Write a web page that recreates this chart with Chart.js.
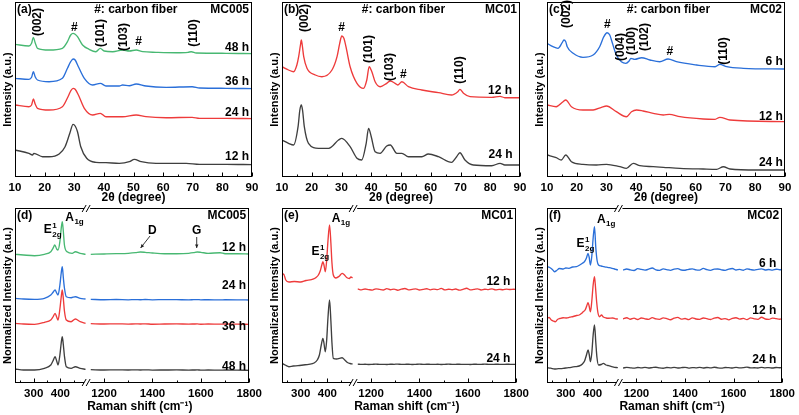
<!DOCTYPE html>
<html><head><meta charset="utf-8">
<script src="https://cdn.jsdelivr.net/npm/chart.js@4.4.0/dist/chart.umd.min.js"></script>
<style>
body{margin:0;background:#fff;width:799px;height:415px;position:relative;overflow:hidden}
canvas{position:absolute}
</style></head><body>
<canvas id="ca" width="266" height="205" style="left:0;top:0"></canvas>
<canvas id="cb" width="266" height="205" style="left:267px;top:0"></canvas>
<canvas id="cc" width="267" height="205" style="left:532px;top:0"></canvas>
<canvas id="cd" width="266" height="210" style="left:0;top:205px"></canvas>
<canvas id="ce" width="266" height="210" style="left:267px;top:205px"></canvas>
<canvas id="cf" width="267" height="210" style="left:532px;top:205px"></canvas>
<script>
// ---------- tick labels ----------
const xrdTicks = [10,20,30,40,50,60,70,80,90];
const xrdMinor = [15,25,35,45,55,65,75,85];
const ramanLeftTicks = [300,400];
const ramanLeftMinor = [250,350,450];
const ramanRightTicks = [1200,1400,1600,1800];
const ramanRightMinor = [1300,1500,1700];

// ---------- (a) XRD MC005 : [2theta, intensity] ----------
const a48h = [[10,132.7],[14.7,131],[15.6,133.7],[16.2,139.7],[16.8,134.3],[17.6,128.7],[21.5,127],[26,128.7],[27.7,135.3],[28.8,142],[29.6,143.7],[30.3,142.7],[31.1,140.3],[32.8,132],[35,127.7],[37.3,125.3],[38.8,128.7],[40.1,126],[43,125.3],[46.3,127],[48.6,126],[50.9,127],[53.1,125.3],[57.6,124.7],[64.4,124.3],[68.4,124.7],[69.5,125.3],[71.2,124],[81.3,123.7],[90,123.3]];
const a36h = [[10,98.7],[14.7,97.7],[15.6,99.7],[16.2,105.3],[16.8,100.3],[17.6,97],[21.5,95.3],[26,98.7],[27.7,108.7],[28.8,115.3],[29.6,118],[30.3,117],[31.4,110.3],[33.4,98.7],[36.2,92],[38.8,93.7],[40.7,91],[45.2,91],[46.3,92],[48.6,91.3],[50.9,93],[54.2,91],[61,89.7],[69.8,90.3],[72.3,89],[81.3,88.7],[90,88.3]];
const a24h = [[10,72],[14.7,70.3],[15.6,72],[16.2,78],[16.8,73],[17.6,68.7],[21.5,67],[26,70.3],[27.9,80.3],[28.8,86],[29.6,88.7],[30.3,87.7],[31.4,82],[33.4,68.7],[36.2,62],[38.8,63.7],[40.7,60.3],[46.3,60.3],[50.9,62],[54.2,60.3],[61,59.3],[69.8,59.7],[72.3,58.7],[81.3,58.7],[90,58.3]];
const a12h = [[10,27],[14.7,23.7],[15.9,22],[16.4,23.7],[19.3,20.3],[21.5,20.3],[24.9,23],[26.9,30.3],[28.5,43.7],[29.6,52.7],[30.3,51],[31.1,45.3],[32.2,30.3],[34.2,18.7],[37.3,14.7],[40.7,14.3],[45.2,13.7],[48.6,15.3],[50.3,17.7],[52.6,15.3],[57.6,13.7],[63.3,13.7],[67.8,13.7],[72.3,12.7],[81.3,12.7],[90,12.3]];

// ---------- (b) XRD MC01 ----------
const b12h = [[10,110.3],[12.2,107],[13.9,105.3],[15,112],[15.6,120.3],[16.2,132],[16.5,137],[16.8,132],[17.3,120.3],[18.4,108.7],[21.2,102],[23.4,100.3],[26.8,107],[28.5,120.3],[29.4,133.7],[30.1,141],[30.8,138.7],[31.5,130.3],[32.9,110.3],[35.2,93.7],[37.4,88.7],[38.5,97],[39.3,110.3],[40.2,105.3],[41.3,95.3],[43,90.3],[45.2,93.7],[46.4,96],[48,93.7],[48.9,92],[50.3,95.3],[52.5,90.3],[57,87],[62.6,84.3],[67,82],[69.1,85.3],[69.8,87.7],[71,83.7],[73.2,80.3],[80.5,79.7],[83.3,80.7],[84.9,79.3],[90,79.3]];
const b24h = [[10,37],[12.2,33.7],[13.9,32],[15.4,50.3],[16,67],[16.5,72],[16.9,67],[17.5,50.3],[18.9,33.7],[22.3,28.7],[25.7,28.7],[29,37],[30.1,38.7],[32.9,30.3],[35.2,18.7],[36.8,17],[38.3,33.7],[39.1,48.7],[40,40.3],[41.3,25.3],[43,23.7],[45.2,31],[46.4,32],[48.6,23.7],[50.3,23.7],[52.5,20.3],[57,20.3],[59.2,23],[62.6,20.3],[67,14.7],[68.7,20.3],[69.8,24.3],[71.5,17],[74.3,12],[80.5,11.3],[83.3,13.7],[84.9,12],[90,12]];

// ---------- (c) XRD MC02 ----------
const c6h = [[10,133.7],[12,130.3],[13.7,128.7],[15.1,134.3],[15.7,137],[16.3,135.3],[16.8,130.3],[18.8,123.7],[22.1,119.7],[25.5,122],[27.7,130.3],[29.1,140.3],[30.2,144.3],[31.1,142],[32,133.7],[33.3,122],[35,115.3],[36.5,113.7],[37.6,116],[38.2,118.7],[39.5,117.7],[41.8,119.3],[44.6,117],[47.9,115.3],[50.7,118],[53.5,115.3],[60.3,112],[66.5,110.3],[68.1,112.7],[70.4,110.3],[76,108.7],[90,108]];
const c12h = [[10,72],[13.1,70.3],[15.4,75.3],[16.3,77],[18.2,70.3],[22.1,67],[25.5,67],[28.3,69.7],[30,71],[33.3,65.3],[36.7,60.3],[38.4,65.3],[40.1,67],[42.3,66],[45.7,63.7],[49.1,62],[51.1,62.7],[54.7,60.3],[62.5,58],[66.5,57.7],[68.1,59.7],[71.5,57],[90,55.3]];
const c24h = [[10,22],[13.1,19.3],[14.8,17],[16.3,22],[18.2,15.3],[22.1,12.7],[26.6,12],[30,12.7],[34.5,10.3],[36.7,8.7],[39,13.7],[41.2,11.3],[45.7,10.3],[49.1,9.7],[54.7,8.7],[62.5,8],[67,7.7],[69.3,10.3],[71.5,8],[80.5,7],[90,7]];

// ---------- (d) Raman MC005 : [shift, normalized intensity] ----------
const dGreenL = [[230,128.7],[262,128],[303,127.3],[340,128.7],[364,131.3],[372,134.7],[379,138],[386,134],[391,133],[398,141.3],[403,154.7],[407,161.3],[411,151.3],[415,138],[425,131.3],[444,129.7],[456,131.3],[474,129.7],[494,128.7]];
const dBlueL = [[230,84.7],[262,84],[303,83.7],[340,84.7],[364,88],[372,90.5],[380,93],[386,90],[391,88],[398,98],[403,110],[407,116.3],[411,105],[415,95],[422,86.3],[440,85.3],[456,86.3],[474,84.7],[494,84]];
const dRedL = [[230,59.7],[262,59],[303,58.7],[340,60.7],[364,63],[372,66],[380,69.7],[386,66],[391,63],[398,74],[403,86],[407,93],[411,84],[415,72],[422,63],[440,61.3],[456,64],[474,61.3],[494,59.7]];
const dBlackL = [[230,14],[262,13],[303,13],[340,14.7],[364,18],[372,22],[380,26.3],[386,22],[391,18],[398,28],[403,40],[407,46.3],[411,38],[415,27],[422,16.3],[440,14.7],[456,16.3],[474,14.7],[494,13.7]];
const dRightX = [1145,1200,1250,1300,1330,1350,1370,1400,1450,1500,1550,1570,1585,1600,1630,1680,1700,1750,1800];
const dGreenR = [128.7,129,129.3,129.7,130.3,131,130.7,130,129.3,129.3,129.7,130.3,131,130.7,129.7,130.3,129.3,129.3,129];
const dBlueR = [83.7,83.3,83.5,83.2,83.4,83.3,83.5,83.2,83.4,83.3,83.1,83.3,83.4,83.2,83.3,83.1,83.3,83.2,83.0];
const dRedR = [59.3,59,59.2,58.9,59.1,59,59.2,58.8,59,59.1,58.9,59,59.1,58.8,59,58.9,59,58.8,58.7];
const dBlackR = [13.3,13,13.2,13,13.1,13,13.2,12.9,13,13.1,12.9,13,13.1,12.9,13,12.9,13,12.8,12.7];

// ---------- (e) Raman MC01 ----------
const eRedL = [[230,108],[236,109],[244,103],[256,101],[276,101.5],[300,101],[320,102.5],[340,103.3],[355,105],[365,107.5],[373,112],[379,118],[383,121.3],[387,118],[392,111.3],[397,122],[402,142],[408,158],[413,140],[417,120],[422,108],[432,105],[445,107],[455,109.7],[462,108.5],[472,105.5],[482,104.5],[488,106],[494,105]];
const eBlackL = [[230,19.7],[242,18],[256,16.3],[272,17],[290,17.3],[310,18],[330,18.7],[350,20],[362,23],[370,28],[377,38],[383,44.7],[387,40],[392,31.3],[397,42],[402,65],[408,83],[413,62],[417,40],[422,24.7],[435,24],[445,24.7],[455,25.3],[465,23],[475,20.5],[485,19.5],[494,19]];
const noisyRightX = [1145,1160,1175,1190,1205,1220,1235,1250,1265,1280,1295,1310,1325,1340,1355,1370,1385,1400,1415,1430,1445,1460,1475,1490,1505,1520,1535,1550,1565,1580,1595,1610,1625,1640,1655,1670,1685,1700,1715,1730,1745,1760,1775,1790,1800];
const eRedR = [94.1,93.2,94.0,93.4,92.9,94.2,93.6,93.0,94.4,93.3,93.9,92.8,93.8,94.5,93.1,93.7,94.2,93.0,93.6,94.3,93.2,93.9,93.4,94.6,93.1,93.8,93.3,94.0,92.9,93.7,94.8,93.2,93.6,94.1,93.0,93.8,93.4,94.2,93.1,93.7,93.3,93.9,93.5,93.8,93.6];
const eBlackR = [18.9,18.6,18.8,18.5,18.7,18.9,18.6,18.7,18.5,18.8,18.7,18.9,18.6,18.7,18.8,18.5,18.7,18.9,18.6,18.8,18.7,18.6,18.8,18.5,18.7,18.9,18.6,18.7,18.8,18.6,18.7,18.5,18.8,18.7,18.6,18.9,18.7,18.6,18.8,18.7,18.6,18.8,18.7,18.6,18.7];

// ---------- (f) Raman MC02 ----------
const fBlueL = [[230,116.3],[240,115.5],[250,113.5],[258,111.3],[266,112.5],[276,114.5],[290,114],[300,115],[312,114.7],[325,116],[340,116.3],[352,118],[362,119.7],[370,121.5],[377,125],[383,129.7],[387,126],[392,118],[397,127],[402,145],[407,156.3],[412,134.7],[417,122],[422,118],[432,117],[442,116.3],[452,115.8],[462,115.3],[472,114.7],[482,114],[488,113.5],[494,113]];
const fRedL = [[230,64.7],[238,65.5],[246,63],[253,62],[261,61.3],[269,63.5],[278,64.5],[290,65.3],[302,65],[315,65.8],[328,66.5],[340,67.5],[350,68],[358,69.5],[365,71.3],[372,73],[378,77],[383,80.3],[387,77],[392,71.3],[397,82],[402,98],[407,106.3],[411,95],[415,81.3],[420,70],[426,66.3],[433,68],[440,66],[450,65],[460,64.8],[475,65],[485,64.2],[494,64]];
const fBlackL = [[230,15.3],[244,14.8],[258,14],[272,14.3],[290,14.7],[305,15.2],[320,15.7],[335,16.3],[350,17],[362,19],[370,22],[377,28],[383,33],[387,29],[392,21.3],[397,30],[402,48],[407,58],[412,40],[416,26],[422,18],[432,18.5],[440,19.7],[450,18],[460,17.3],[475,16.2],[488,15.5],[494,15.3]];
const fBlueR = [112.8,114.0,113.1,112.5,114.3,113.6,112.9,113.8,115.0,113.2,112.7,114.1,113.4,112.6,113.9,114.4,113.0,112.8,113.7,114.2,113.1,112.9,114.6,113.3,112.7,113.8,114.0,113.2,112.6,113.9,114.5,113.0,113.6,112.8,114.2,113.4,112.9,113.7,114.1,113.0,113.5,112.9,113.8,113.3,113.6];
const fRedR = [64.0,65.3,63.8,64.9,63.5,65.0,64.2,63.6,65.4,64.1,63.7,65.1,64.4,63.3,64.8,65.6,63.9,64.5,63.4,65.2,64.0,63.6,65.0,64.3,63.5,64.9,65.5,63.8,64.4,63.2,64.7,65.3,63.9,64.6,63.4,65.1,64.2,63.7,65.8,64.0,63.6,64.9,64.3,63.8,64.5];
const fBlackR = [15.0,15.6,15.2,14.9,15.5,15.1,15.7,15.0,15.4,15.8,15.1,14.8,15.5,15.2,15.6,15.0,15.3,15.7,14.9,15.4,15.2,15.6,15.0,15.5,15.1,15.8,15.2,14.9,15.5,15.3,15.0,15.6,15.2,15.4,15.9,15.1,15.3,15.0,15.6,15.2,15.4,15.0,15.5,15.3,15.4];

// ---------- styling ----------
const FONT = "'Liberation Sans', Arial, Helvetica, sans-serif";
const COL = {black:'#3f3f3f', red:'#ee3b3b', blue:'#2a6fd9', green:'#48b872'};
Chart.defaults.font.family = FONT;

const pairs = a => a.map(p => ({x:p[0], y:p[1]}));
const zip = (xs, ys) => xs.map((x,i) => ({x, y:ys[i]}));

const decoPlugin = {
  id:'deco',
  afterDatasetsDraw(chart, args, o){
    const ctx = chart.ctx, ca = chart.chartArea, ys = chart.scales.y;
    ctx.save();
    ctx.strokeStyle = '#000'; ctx.lineWidth = 1;
    const L = Math.round(ca.left)+0.5, T = Math.round(ca.top)+0.5, R = Math.round(ca.right)-0.5, B = Math.round(ca.bottom)-0.5;
    ctx.strokeRect(L, T, R-L, B-T);
    (o.ticks||[]).forEach(t => {
      const sc = chart.scales[t.axis];
      const draw = (v, len) => { const px = Math.round(sc.getPixelForValue(v))+0.5; ctx.beginPath(); ctx.moveTo(px, B); ctx.lineTo(px, B-len); ctx.stroke(); };
      t.major.forEach(v => draw(v, 4)); t.minor.forEach(v => draw(v, 2));
    });
    if (o.breakAxis){
      const bx = chart.scales[o.breakAxis].right;
      [T, B].forEach(by => {
        ctx.fillStyle = '#fff'; ctx.fillRect(bx-3, by-1.5, 6, 3);
        ctx.beginPath();
        ctx.moveTo(bx-5, by+3.5); ctx.lineTo(bx-1, by-3.5);
        ctx.moveTo(bx-1, by+3.5); ctx.lineTo(bx+3, by-3.5);
        ctx.stroke();
      });
    }
    ctx.fillStyle = '#000';
    ctx.font = 'bold 12px ' + FONT; ctx.textBaseline = 'middle';
    ctx.textAlign = 'left'; ctx.fillText(o.tag, ca.left+2, ca.top+8);
    ctx.textAlign = 'right'; ctx.fillText(o.sample, ca.right-3, ca.top+8);
    if (o.header){ ctx.textAlign = 'center'; ctx.fillText(o.header, ca.left + ca.width*0.51, ca.top+8); }
    (o.labels||[]).forEach(l => {
      const px = chart.scales[l.ax||'x'].getPixelForValue(l.x), py = ys.getPixelForValue(l.y);
      ctx.font = 'bold 12px ' + FONT; ctx.textBaseline = 'middle';
      if (l.kind === 'E'){
        ctx.textAlign = 'left'; ctx.fillText('E', px, py);
        const w = ctx.measureText('E').width;
        ctx.font = 'bold 8px ' + FONT;
        ctx.fillText('1', px+w+0.5, py-4); ctx.fillText('2g', px+w+0.5, py+5);
      } else if (l.kind === 'A'){
        ctx.textAlign = 'left'; ctx.fillText('A', px, py);
        const w = ctx.measureText('A').width;
        ctx.font = 'bold 8px ' + FONT;
        ctx.fillText('1g', px+w+0.5, py+4);
      } else if (l.rot){
        ctx.save(); ctx.translate(px, py); ctx.rotate(-Math.PI/2);
        ctx.textAlign = 'center'; ctx.fillText(l.t, 0, 0); ctx.restore();
      } else {
        ctx.textAlign = l.al || 'center'; ctx.fillText(l.t, px, py);
      }
    });
    (o.arrows||[]).forEach(a => {
      const sc = chart.scales[a.ax];
      const x1 = sc.getPixelForValue(a.x1), y1 = ys.getPixelForValue(a.y1);
      const x2 = sc.getPixelForValue(a.x2), y2 = ys.getPixelForValue(a.y2);
      ctx.strokeStyle = '#222'; ctx.lineWidth = 0.9;
      ctx.beginPath(); ctx.moveTo(x1,y1); ctx.lineTo(x2,y2); ctx.stroke();
      const ang = Math.atan2(y2-y1, x2-x1), h = 4;
      ctx.beginPath(); ctx.moveTo(x2,y2);
      ctx.lineTo(x2 - h*Math.cos(ang-0.45), y2 - h*Math.sin(ang-0.45));
      ctx.lineTo(x2 - h*Math.cos(ang+0.45), y2 - h*Math.sin(ang+0.45));
      ctx.closePath(); ctx.fillStyle = '#222'; ctx.fill();
    });
    ctx.restore();
  }
};

const tickFont = {size:11.5, weight:'bold', family:FONT};
const titleFont = {size:12, weight:'bold', family:FONT};
const yTitleFont = {size:11, weight:'bold', family:FONT};
const plainLabel = v => String(v);

function line(points, color, axis){
  return {data:points, borderColor:color, borderWidth:1.35, pointRadius:0, fill:false,
          cubicInterpolationMode:'monotone', xAxisID: axis||'x', yAxisID:'y'};
}

function yAxis(text){
  return {min:0, max:175, ticks:{display:false}, grid:{display:false, drawTicks:false}, border:{display:false},
          title:{display:true, text, font:yTitleFont, color:'#000', padding:{top:1, bottom:0}},
          afterFit: s => { s.width = 15; }};
}

function xAxis(min, max, tickValues, extra){
  return Object.assign({type:'linear', position:'bottom', min, max,
    afterBuildTicks: s => { s.ticks = tickValues.map(v => ({value:v})); },
    grid:{display:false, drawTicks:false}, border:{display:false},
    ticks:{font:tickFont, color:'#000', padding:4, maxRotation:0, autoSkip:false, callback:plainLabel}}, extra);
}

function xrdChart(id, datasets, deco, padRight){
  return new Chart(document.getElementById(id), {
    type:'line',
    data:{datasets},
    plugins:[decoPlugin],
    options:{
      responsive:false, animation:false, events:[],
      layout:{padding:{top:2, right:padRight, left:0, bottom:0}},
      plugins:{legend:{display:false}, tooltip:{enabled:false}, deco},
      scales:{
        x: xAxis(10, 90, xrdTicks, {
           title:{display:true, text:'2θ (degree)', font:titleFont, color:'#000', padding:{top:0, bottom:0}},
           afterFit: s => { s.height = 28; }}),
        y: yAxis('Intensity (a.u.)')
      }
    }
  });
}

function ramanChart(id, datasets, deco, padRight){
  return new Chart(document.getElementById(id), {
    type:'line',
    data:{datasets},
    plugins:[decoPlugin],
    options:{
      responsive:false, animation:false, events:[],
      layout:{padding:{top:3, right:padRight, left:0, bottom:0}},
      plugins:{legend:{display:false}, tooltip:{enabled:false}, deco},
      scales:{
        xl: xAxis(230, 500, ramanLeftTicks, {stack:'raman', stackWeight:73, afterFit: s => { s.height = 32; }}),
        xr: xAxis(1130, 1800, ramanRightTicks, {stack:'raman', stackWeight:164,
            title:{display:true, text:'Raman shift (cm⁻¹)', align:'start', font:titleFont, color:'#000', padding:{top:0, bottom:1}},
            afterFit: s => { s.height = 32; }}),
        y: yAxis('Normalized Intensity (a.u.)')
      }
    }
  });
}

const xrdTickMarks = [{axis:'x', major:xrdTicks, minor:xrdMinor}];
const ramanTickMarks = [{axis:'xl', major:ramanLeftTicks, minor:ramanLeftMinor},{axis:'xr', major:ramanRightTicks, minor:ramanRightMinor}];

xrdChart('ca', [line(pairs(a12h),COL.black), line(pairs(a24h),COL.red), line(pairs(a36h),COL.blue), line(pairs(a48h),COL.green)], {
  tag:'(a)', sample:'MC005', header:'#: carbon fiber', ticks:xrdTickMarks,
  labels:[{t:'(002)',x:17.5,y:155,rot:1},{t:'#',x:30,y:149},{t:'(101)',x:38.8,y:144,rot:1},{t:'(103)',x:46.6,y:140,rot:1},
          {t:'#',x:51.7,y:135},{t:'(110)',x:70.3,y:144,rot:1},
          {t:'48 h',x:89,y:129,al:'right'},{t:'36 h',x:89,y:95,al:'right'},{t:'24 h',x:89,y:64,al:'right'},{t:'12 h',x:89,y:20,al:'right'}]
}, 14);

xrdChart('cb', [line(pairs(b24h),COL.black), line(pairs(b12h),COL.red)], {
  tag:'(b)', sample:'MC01', header:'#: carbon fiber', ticks:xrdTickMarks,
  labels:[{t:'(002)',x:17.5,y:159,rot:1},{t:'#',x:30,y:149},{t:'(101)',x:39.2,y:128,rot:1},{t:'(103)',x:46.1,y:110,rot:1},
          {t:'#',x:50.8,y:102},{t:'(110)',x:69.8,y:107,rot:1},
          {t:'12 h',x:87.3,y:86,al:'right'},{t:'24 h',x:87.5,y:22,al:'right'}]
}, 13);

xrdChart('cc', [line(pairs(c24h),COL.black), line(pairs(c12h),COL.red), line(pairs(c6h),COL.blue)], {
  tag:'(c)', sample:'MC02', header:'#: carbon fiber', ticks:xrdTickMarks,
  labels:[{t:'(002)',x:16.6,y:163,rot:1},{t:'#',x:30.3,y:152},{t:'(004)',x:34.9,y:130,rot:1},{t:'(100)',x:38.5,y:136,rot:1},
          {t:'(102)',x:42.7,y:140,rot:1},{t:'#',x:51.3,y:125},{t:'(110)',x:69.3,y:126,rot:1},
          {t:'6 h',x:89.3,y:115,al:'right'},{t:'12 h',x:89.3,y:60,al:'right'},{t:'24 h',x:89.3,y:14,al:'right'}]
}, 14);

ramanChart('cd', [
  line(pairs(dBlackL),COL.black,'xl'), line(zip(dRightX,dBlackR),COL.black,'xr'),
  line(pairs(dRedL),COL.red,'xl'), line(zip(dRightX,dRedR),COL.red,'xr'),
  line(pairs(dBlueL),COL.blue,'xl'), line(zip(dRightX,dBlueR),COL.blue,'xr'),
  line(pairs(dGreenL),COL.green,'xl'), line(zip(dRightX,dGreenR),COL.green,'xr')
], {
  tag:'(d)', sample:'MC005', ticks:ramanTickMarks, breakAxis:'xl',
  labels:[{kind:'E',ax:'xl',x:338,y:153},{kind:'A',ax:'xl',x:418,y:165},
          {t:'D',ax:'xr',x:1400,y:152},{t:'G',ax:'xr',x:1583,y:152},
          {t:'12 h',ax:'xr',x:1787,y:135,al:'right'},{t:'24 h',ax:'xr',x:1787,y:97.3,al:'right'},
          {t:'36 h',ax:'xr',x:1787,y:56.3,al:'right'},{t:'48 h',ax:'xr',x:1787,y:16.3,al:'right'}],
  arrows:[{ax:'xr',x1:1390,y1:147,x2:1351,y2:135},{ax:'xr',x1:1583,y1:146,x2:1583,y2:135}]
}, 14);

ramanChart('ce', [
  line(pairs(eBlackL),COL.black,'xl'), line(zip(noisyRightX,eBlackR),COL.black,'xr'),
  line(pairs(eRedL),COL.red,'xl'), line(zip(noisyRightX,eRedR),COL.red,'xr')
], {
  tag:'(e)', sample:'MC01', ticks:ramanTickMarks, breakAxis:'xl',
  labels:[{kind:'E',ax:'xl',x:340,y:131.3},{kind:'A',ax:'xl',x:416,y:164.7},
          {t:'12 h',ax:'xr',x:1776,y:101.3,al:'right'},{t:'24 h',ax:'xr',x:1776,y:24.7,al:'right'}]
}, 13);

ramanChart('cf', [
  line(pairs(fBlackL),COL.black,'xl'), line(zip(noisyRightX,fBlackR),COL.black,'xr'),
  line(pairs(fRedL),COL.red,'xl'), line(zip(noisyRightX,fRedR),COL.red,'xr'),
  line(pairs(fBlueL),COL.blue,'xl'), line(zip(noisyRightX,fBlueR),COL.blue,'xr')
], {
  tag:'(f)', sample:'MC02', ticks:ramanTickMarks, breakAxis:'xl',
  labels:[{kind:'E',ax:'xl',x:340,y:139.7},{kind:'A',ax:'xl',x:416,y:163},
          {t:'6 h',ax:'xr',x:1776,y:119.7,al:'right'},{t:'12 h',ax:'xr',x:1776,y:72,al:'right'},{t:'24 h',ax:'xr',x:1776,y:23.7,al:'right'}]
}, 14);
</script>
</body></html>
